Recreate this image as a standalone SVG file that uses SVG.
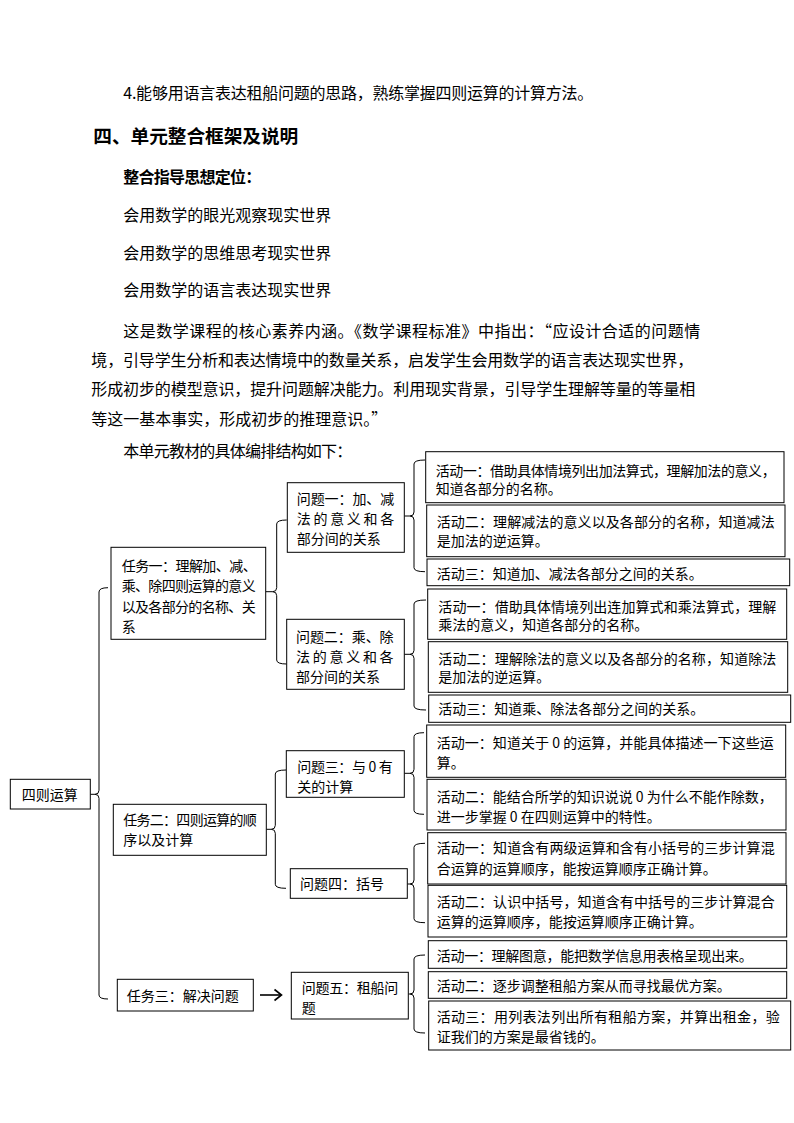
<svg xmlns="http://www.w3.org/2000/svg" width="794" height="1123" viewBox="0 0 794 1123">
<style>
text{font-family:"Noto Sans CJK SC","Liberation Sans",sans-serif;fill:#000}
.p{font-size:16px}
.h{font-size:18.7px;font-weight:bold}
.b{font-size:16px;font-weight:bold}
.t{font-size:14px}
rect{fill:#fff;stroke:#000;stroke-width:1}
.c path,.c line,.c polyline{fill:none;stroke:#000;stroke-width:1}
</style>
<rect x="0" y="0" width="794" height="1123" style="stroke:none"/>
<g id="body">
<text class="p" x="123.3" y="98.7" textLength="470" lengthAdjust="spacing">4.能够用语言表达租船问题的思路，熟练掌握四则运算的计算方法。</text>
<text class="h" x="93.3" y="143" textLength="205" lengthAdjust="spacing">四、单元整合框架及说明</text>
<text class="b" x="123.3" y="182.7" textLength="138" lengthAdjust="spacing">整合指导思想定位：</text>
<text class="p" x="123.3" y="221">会用数学的眼光观察现实世界</text>
<text class="p" x="123.3" y="259.3">会用数学的思维思考现实世界</text>
<text class="p" x="123.3" y="296">会用数学的语言表达现实世界</text>
<text class="p" x="123.3" y="337" textLength="577" lengthAdjust="spacing">这是数学课程的核心素养内涵。《数学课程标准》中指出：“应设计合适的问题情</text>
<text class="p" x="91.3" y="366" textLength="602" lengthAdjust="spacing">境，引导学生分析和表达情境中的数量关系，启发学生会用数学的语言表达现实世界，</text>
<text class="p" x="91.3" y="395" textLength="604" lengthAdjust="spacing">形成初步的模型意识，提升问题解决能力。利用现实背景，引导学生理解等量的等量相</text>
<text class="p" x="91.3" y="424.5">等这一基本事实，形成初步的推理意识。”</text>
<text class="p" x="123.3" y="457" textLength="229" lengthAdjust="spacing">本单元教材的具体编排结构如下：</text>
</g>
<g id="connectors" class="c">
<!-- main brace -->
<line x1="90.3" y1="794.3" x2="95" y2="794.3"/>
<path d="M108,587.7 Q99,587.7 99,592 L99,790.3 Q99,794.3 95,794.3 Q99,794.3 99,798.3 L99,995 Q99,999 108,999"/>
<!-- task1 brace -->
<line x1="265.7" y1="591.7" x2="272.7" y2="591.7"/>
<path d="M286.7,520 Q276.7,520 276.7,524 L276.7,587.7 Q276.7,591.7 272.7,591.7 Q276.7,591.7 276.7,595.7 L276.7,660 Q276.7,664 286.7,664"/>
<!-- task2 brace -->
<line x1="266.3" y1="829.3" x2="271.3" y2="829.3"/>
<path d="M286,770 Q275.3,770 275.3,774 L275.3,825.3 Q275.3,829.3 271.3,829.3 Q275.3,829.3 275.3,833.3 L275.3,884.3 Q275.3,888.3 286,888.3"/>
<!-- q1 brace -->
<line x1="404.3" y1="516" x2="410" y2="516"/>
<path d="M425,460 Q414,460 414,464 L414,512 Q414,516 410,516 Q414,516 414,520 L414,567.7 Q414,571.7 425,571.7"/>
<!-- q2 brace -->
<line x1="404.3" y1="654.3" x2="410" y2="654.3"/>
<path d="M426,600 Q414,600 414,604 L414,650.3 Q414,654.3 410,654.3 Q414,654.3 414,658.3 L414,706 Q414,710 426,710"/>
<!-- q3 brace -->
<line x1="404.3" y1="773.3" x2="410" y2="773.3"/>
<path d="M424,732.7 Q414,732.7 414,736.7 L414,769.3 Q414,773.3 410,773.3 Q414,773.3 414,777.3 L414,810.3 Q414,814.3 424,814.3"/>
<!-- q4 brace -->
<line x1="407.3" y1="884" x2="410" y2="884"/>
<path d="M425,843.3 Q414,843.3 414,847.3 L414,880 Q414,884 410,884 Q414,884 414,888 L414,918.7 Q414,922.7 425,922.7"/>
<!-- q5 brace -->
<line x1="408.3" y1="994" x2="410" y2="994"/>
<path d="M425,955 Q414,955 414,959 L414,990 Q414,994 410,994 Q414,994 414,998 L414,1029 Q414,1033 425,1033"/>
<!-- arrow task3 -> q5 -->
<line x1="260" y1="995" x2="281" y2="995" style="stroke-width:1.6"/>
<polyline points="274.5,989.5 281.5,995 274.5,1000.5" style="stroke-width:1.6"/>
</g>
<g id="root">
<rect x="10.3" y="779.3" width="80" height="29.7"/>
<text class="t" x="21.7" y="800">四则运算</text>
</g>
<g id="task1">
<rect x="111" y="547.3" width="154.7" height="92"/>
<text class="t" x="121.7" y="571" textLength="135" lengthAdjust="spacing">任务一：理解加、减、</text>
<text class="t" x="121.7" y="591.3" textLength="134" lengthAdjust="spacing">乘、除四则运算的意义</text>
<text class="t" x="121.7" y="611.7" textLength="134" lengthAdjust="spacing">以及各部分的名称、关</text>
<text class="t" x="121.7" y="632.3">系</text>
</g>
<g id="task2">
<rect x="113.3" y="804.3" width="153" height="51"/>
<text class="t" x="123.3" y="825" textLength="133.4" lengthAdjust="spacing">任务二：四则运算的顺</text>
<text class="t" x="123.3" y="845">序以及计算</text>
</g>
<g id="task3">
<rect x="117.3" y="979.3" width="136" height="31.7"/>
<text class="t" x="126.7" y="1001">任务三：解决问题</text>
</g>
<g id="q1">
<rect x="287.3" y="482.7" width="117" height="69.6"/>
<text class="t" x="296.7" y="504.3" textLength="97.6" lengthAdjust="spacing">问题一：加、减</text>
<text class="t" x="296.7" y="524.3" textLength="97.6" lengthAdjust="spacing">法的意义和各</text>
<text class="t" x="296.7" y="544.3">部分间的关系</text>
</g>
<g id="q2">
<rect x="286.7" y="619.3" width="117.6" height="70"/>
<text class="t" x="296" y="641.7" textLength="97.6" lengthAdjust="spacing">问题二：乘、除</text>
<text class="t" x="296" y="661.7" textLength="97.6" lengthAdjust="spacing">法的意义和各</text>
<text class="t" x="296" y="682.3">部分间的关系</text>
</g>
<g id="q3">
<rect x="286.3" y="750.7" width="118" height="46.6"/>
<text class="t" x="297.3" y="771.7" textLength="95.4" lengthAdjust="spacing">问题三：与 0 有</text>
<text class="t" x="297.3" y="792.3">关的计算</text>
</g>
<g id="q4">
<rect x="290.3" y="868.7" width="117" height="29.6"/>
<text class="t" x="300" y="889">问题四：括号</text>
</g>
<g id="q5">
<rect x="291.3" y="972.3" width="117" height="46.7"/>
<text class="t" x="301.7" y="993.3" textLength="96.6" lengthAdjust="spacing">问题五：租船问</text>
<text class="t" x="301.7" y="1013.3">题</text>
</g>
<g id="q1a1">
<rect x="425.7" y="451.7" width="358.3" height="51"/>
<text class="t" x="435.7" y="475.5" textLength="340" lengthAdjust="spacing">活动一：借助具体情境列出加法算式，理解加法的意义，</text>
<text class="t" x="435.7" y="494">知道各部分的名称。</text>
</g>
<g id="q1a2">
<rect x="426.7" y="505" width="358.3" height="51.7"/>
<text class="t" x="436.7" y="527.3" textLength="338" lengthAdjust="spacing">活动二：理解减法的意义以及各部分的名称，知道减法</text>
<text class="t" x="436.7" y="545.5">是加法的逆运算。</text>
</g>
<g id="q1a3">
<rect x="427" y="559" width="362.7" height="26.7"/>
<text class="t" x="436.7" y="579">活动三：知道加、减法各部分之间的关系。</text>
</g>
<g id="q2a1">
<rect x="427.7" y="589" width="359" height="50.3"/>
<text class="t" x="438.3" y="612" textLength="338" lengthAdjust="spacing">活动一：借助具体情境列出连加算式和乘法算式，理解</text>
<text class="t" x="438.3" y="630">乘法的意义，知道各部分的名称。</text>
</g>
<g id="q2a2">
<rect x="428.3" y="641.7" width="359.4" height="50.6"/>
<text class="t" x="438.3" y="663.5" textLength="338" lengthAdjust="spacing">活动二：理解除法的意义以及各部分的名称，知道除法</text>
<text class="t" x="438.3" y="682">是加法的逆运算。</text>
</g>
<g id="q2a3">
<rect x="428.7" y="695" width="362" height="27.3"/>
<text class="t" x="438.3" y="713.5">活动三：知道乘、除法各部分之间的关系。</text>
</g>
<g id="q3a1">
<rect x="426.7" y="725" width="359" height="52.3"/>
<text class="t" x="436.7" y="748.3" textLength="337" lengthAdjust="spacing">活动一：知道关于 0 的运算，并能具体描述一下这些运</text>
<text class="t" x="436.7" y="767.7">算。</text>
</g>
<g id="q3a2">
<rect x="427" y="779.3" width="359" height="50.7"/>
<text class="t" x="436.7" y="802.3" textLength="336" lengthAdjust="spacing">活动二：能结合所学的知识说说 0 为什么不能作除数，</text>
<text class="t" x="436.7" y="821.7">进一步掌握 0 在四则运算中的特性。</text>
</g>
<g id="q4a1">
<rect x="427.7" y="832.7" width="358.3" height="51.3"/>
<text class="t" x="436.7" y="853.3" textLength="338" lengthAdjust="spacing">活动一：知道含有两级运算和含有小括号的三步计算混</text>
<text class="t" x="436.7" y="874">合运算的运算顺序，能按运算顺序正确计算。</text>
</g>
<g id="q4a2">
<rect x="428" y="885.3" width="358.7" height="51.7"/>
<text class="t" x="436.7" y="906.7" textLength="338" lengthAdjust="spacing">活动二：认识中括号，知道含有中括号的三步计算混合</text>
<text class="t" x="436.7" y="926.7">运算的运算顺序，能按运算顺序正确计算。</text>
</g>
<g id="q5a1">
<rect x="428.3" y="940.7" width="358.4" height="27.6"/>
<text class="t" x="436.7" y="960.5" textLength="316" lengthAdjust="spacing">活动一：理解图意，能把数学信息用表格呈现出来。</text>
</g>
<g id="q5a2">
<rect x="428.3" y="971.7" width="358.4" height="26.6"/>
<text class="t" x="436.7" y="991">活动二：逐步调整租船方案从而寻找最优方案。</text>
</g>
<g id="q5a3">
<rect x="428.7" y="1001" width="362" height="49"/>
<text class="t" x="436.7" y="1021.7" textLength="343" lengthAdjust="spacing">活动三：用列表法列出所有租船方案，并算出租金，验</text>
<text class="t" x="436.7" y="1042">证我们的方案是最省钱的。</text>
</g>
</svg>
